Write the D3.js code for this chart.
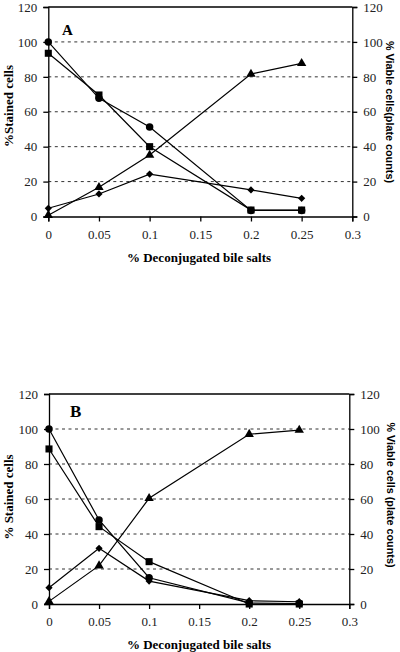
<!DOCTYPE html>
<html><head><meta charset="utf-8">
<script src="https://cdn.jsdelivr.net/npm/d3@7"></script>
<style>body{margin:0;background:#fff}svg{display:block}
.serif{font-family:"Liberation Serif","Times New Roman",Times,"DejaVu Serif",serif}
.sans{font-family:"Liberation Sans",Arial,Helvetica,sans-serif}
</style>
</head><body><svg id="c" width="400" height="652"></svg>
<script>
const xVals = [0, 0.05, 0.1, 0.2, 0.25];
const xTicks = [0, 0.05, 0.1, 0.15, 0.2, 0.25, 0.3];
const xTickLabels = ["0", "0.05", "0.1", "0.15", "0.2", "0.25", "0.3"];
const yTicks = [0, 20, 40, 60, 80, 100, 120];
const panelLetters = ["A", "B"];
const leftTitles = ["%Stained cells", "% Stained cells"];
const rightTitles = ["% Viable cells(plate counts)", "% Viable cells (plate counts)"];
const xTitle = "%  Deconjugated bile salts";

const aCircle   = [100, 67.7, 51.3, 3.5, 3.5];
const aSquare   = [93.5, 69.6, 40, 3.7, 3.7];
const aTriangle = [0.7, 16.7, 35.2, 81.6, 87.7];
const aDiamond  = [4.7, 12.9, 24.3, 15.2, 10.4];

const bCircle   = [100, 48, 15, 0.6, 0.3];
const bSquare   = [88.6, 44.2, 24.2, 0, 0];
const bTriangle = [1.5, 21.9, 60.4, 97, 99.4];
const bDiamond  = [9.3, 31.8, 13.1, 1.9, 1.3];

const svg = d3.select("#c");

function drawPanel(p) {
  const x = d3.scaleLinear().domain([0, 0.3]).range([p.left, p.right]);
  const y = d3.scaleLinear().domain([0, 120]).range([p.bottom, p.top]);
  const g = svg.append("g");

  g.selectAll("line.grid").data(yTicks.filter(t => t > 0 && t < 120)).enter()
    .append("line").attr("x1", p.left).attr("x2", p.right)
    .attr("y1", d => y(d)).attr("y2", d => y(d))
    .attr("stroke", "#333").attr("stroke-width", 1).attr("stroke-dasharray", "3,3.5");
  g.append("line").attr("x1", p.left).attr("x2", p.right).attr("y1", y(120)).attr("y2", y(120))
    .attr("stroke", "#000").attr("stroke-width", 1.3);

  const ax = g.append("g").attr("transform", `translate(0,${p.bottom})`)
    .call(d3.axisBottom(x).tickValues(xTicks).tickFormat((d, i) => xTickLabels[i]).tickSizeOuter(0).tickSize(5).tickPadding(8));
  const al = g.append("g").attr("transform", `translate(${p.left},0)`)
    .call(d3.axisLeft(y).tickValues(yTicks).tickSizeOuter(0).tickSize(5).tickPadding(6));
  const ar = g.append("g").attr("transform", `translate(${p.right},0)`)
    .call(d3.axisRight(y).tickValues(yTicks).tickSizeOuter(0).tickSize(5).tickPadding(6));
  [ax, al, ar].forEach(a => {
    a.attr("font-family", null).attr("font-size", null);
    a.selectAll("path,line").attr("stroke", "#000").attr("stroke-width", 1.3);
    a.selectAll("text").attr("class", "serif").style("font-size", "13px").attr("fill", "#222");
  });

  const line = d3.line().x((d, i) => x(xVals[i])).y(d => y(d));
  const series = [
    {v: p.diamond, sym: d3.symbolSquare, size: 26, rot: 45},
    {v: p.triangle, sym: d3.symbolTriangle, size: 38, rot: 0},
    {v: p.circle, sym: d3.symbolCircle, size: 44, rot: 0},
    {v: p.square, sym: d3.symbolSquare, size: 50, rot: 0}
  ];
  series.forEach(s => {
    g.append("path").datum(s.v).attr("d", line).attr("fill", "none")
      .attr("stroke", "#000").attr("stroke-width", 1.2);
  });
  series.forEach(s => {
    g.selectAll(null).data(s.v).enter().append("path")
      .attr("d", d3.symbol().type(s.sym).size(s.size))
      .attr("transform", (d, i) => `translate(${x(xVals[i])},${y(d)}) rotate(${s.rot})`)
      .attr("fill", "#000");
  });

  g.append("text").attr("class", "serif").attr("x", p.letterX).attr("y", p.letterY).text(p.letter)
    .style("font-weight", "bold").style("font-size", p.letterSize + "px");
  g.append("text").attr("class", "serif").attr("transform", `translate(${p.lx},${p.ly}) rotate(-90)`)
    .attr("text-anchor", "middle").attr("dy", "0.35em").text(p.leftTitle)
    .style("font-weight", "bold").style("font-size", "13px");
  g.append("text").attr("class", "sans").attr("transform", `translate(${p.rx},${p.ry}) rotate(90)`)
    .attr("text-anchor", "middle").attr("dy", "0.35em").text(p.rightTitle)
    .style("font-weight", "bold").style("font-size", "10.8px");
  g.append("text").attr("class", "serif").attr("x", p.tx).attr("y", p.ty).attr("text-anchor", "middle")
    .attr("dy", "0.35em").text(xTitle)
    .style("font-weight", "bold").style("font-size", "13px");
}

drawPanel({left: 48.3, right: 352.3, top: 7, bottom: 216.5,
  circle: aCircle, square: aSquare, triangle: aTriangle, diamond: aDiamond,
  letter: panelLetters[0], letterX: 62, letterY: 34.5, letterSize: 15,
  leftTitle: leftTitles[0], lx: 8, ly: 106, rightTitle: rightTitles[0], rx: 390, ry: 112,
  tx: 199, ty: 257});
drawPanel({left: 49, right: 349.3, top: 394, bottom: 604,
  circle: bCircle, square: bSquare, triangle: bTriangle, diamond: bDiamond,
  letter: panelLetters[1], letterX: 70, letterY: 416.5, letterSize: 17,
  leftTitle: leftTitles[1], lx: 8, ly: 497, rightTitle: rightTitles[1], rx: 391, ry: 495,
  tx: 199, ty: 644});
</script></body></html>
